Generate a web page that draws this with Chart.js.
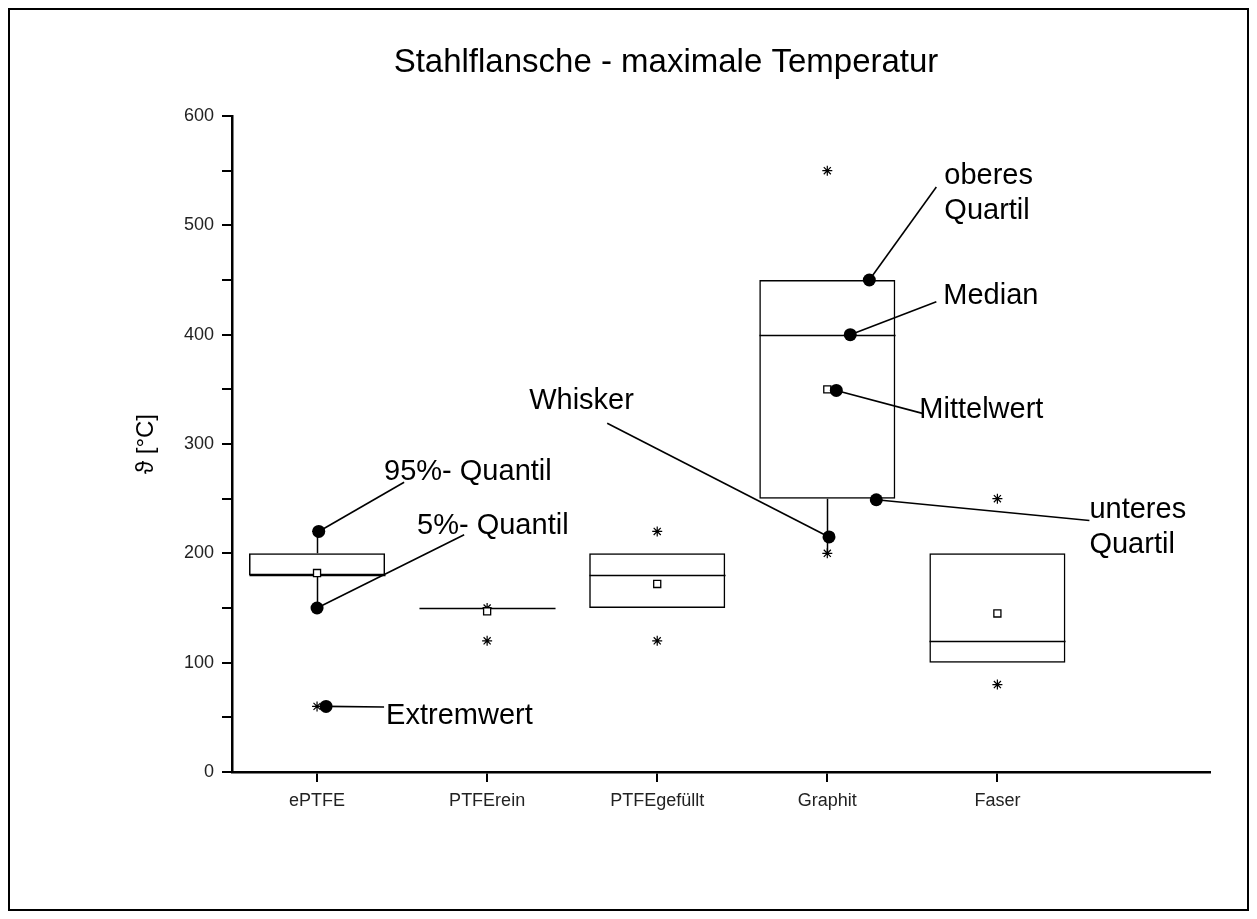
<!DOCTYPE html>
<html><head><meta charset="utf-8">
<script src="https://cdn.jsdelivr.net/npm/chart.js@4.4.0/dist/chart.umd.min.js"></script>
<style>html,body{margin:0;padding:0;background:#fff}canvas{display:block}</style>
</head><body>
<canvas id="c" width="1257" height="919" style="width:1257px;height:919px"></canvas>
<script>
// ---- data ----
const categories = ['ePTFE', 'PTFErein', 'PTFEgefüllt', 'Graphit', 'Faser'];
const q1 = [180, 150, 150, 250, 100];
const q3 = [200, 150, 200, 450, 200];
const median = [180, 150, 180, 400, 120];
const mean = [182, 147, 172, 350, 145];
const whiskerLow = [150, 150, 150, 200, 100];
const whiskerHigh = [220, 150, 200, 450, 200];
const crossValues = [[220, 150, 60], [150, 120], [220, 120], [550, 200], [250, 80]];
const yTicks = [0, 100, 200, 300, 400, 500, 600];

// annotation callouts (in data units: x = category index, y = °C)
const noteLabels = ['95%- Quantil', '5%- Quantil', 'Extremwert', 'Whisker', 'oberes\nQuartil', 'Median', 'Mittelwert', 'unteres\nQuartil'];
const noteDotX = [0.01, 0.0, 0.053, 3.01, 3.247, 3.135, 3.053, 3.288];
const noteDotY = [220, 150, 60, 215, 450, 400, 349, 249];
const noteEndX = [0.512, 0.865, 0.394, 1.706, 3.641, 3.641, 3.559, 4.541];
const noteEndY = [265, 217, 59.5, 319, 535, 430, 328, 230];
const noteTextX = [0.394, 0.588, 0.406, 1.247, 3.688, 3.682, 3.541, 4.541];
const noteTextY = [274, 225, 51, 339, 545, 435, 331, 240];

const FONT = '"Liberation Sans", Arial, Helvetica, sans-serif';

const extras = {
  id: 'extras',
  beforeDraw(chart) {
    const ctx = chart.ctx;
    ctx.save();
    ctx.fillStyle = '#fff';
    ctx.fillRect(0, 0, chart.width, chart.height);
    ctx.strokeStyle = '#000';
    ctx.lineWidth = 2;
    ctx.strokeRect(9, 9, chart.width - 18, chart.height - 18);
    ctx.restore();
  },
  beforeDatasetsDraw(chart) {
    const {ctx, scales: {x, y}} = chart;
    const half = (x.getPixelForValue(1) - x.getPixelForValue(0)) * 0.4;
    ctx.save();
    ctx.strokeStyle = '#000';
    ctx.lineWidth = 1.5;
    categories.forEach((c, i) => {
      const cx = Math.round(x.getPixelForValue(i)) + 0.5;
      ctx.beginPath();
      const ym = Math.round(y.getPixelForValue(median[i])) + 0.5;
      ctx.moveTo(cx - half, ym); ctx.lineTo(cx + half, ym);
      if (whiskerHigh[i] > q3[i]) {
        ctx.moveTo(cx, y.getPixelForValue(q3[i])); ctx.lineTo(cx, y.getPixelForValue(whiskerHigh[i]));
      }
      if (whiskerLow[i] < q1[i]) {
        ctx.moveTo(cx, y.getPixelForValue(q1[i])); ctx.lineTo(cx, y.getPixelForValue(whiskerLow[i]));
      }
      ctx.stroke();
    });
    ctx.restore();
  },
  afterDatasetsDraw(chart) {
    const {ctx, scales: {x, y}} = chart;
    ctx.save();
    ctx.fillStyle = '#000';
    ctx.font = '29px ' + FONT;
    ctx.textAlign = 'left';
    ctx.textBaseline = 'middle';
    noteLabels.forEach((t, i) => {
      const px = x.getPixelForValue(noteTextX[i]);
      const py = y.getPixelForValue(noteTextY[i]);
      t.split('\n').forEach((line, k) => ctx.fillText(line, px, py + k * 35));
    });
    ctx.restore();
  }
};

const datasets = [];
// annotation dots
datasets.push({
  type: 'scatter',
  data: noteDotX.map((v, i) => ({x: v, y: noteDotY[i]})),
  pointStyle: 'circle', pointRadius: 6.5, backgroundColor: '#000', borderColor: '#000', borderWidth: 0, clip: false
});
// annotation lines
noteDotX.forEach((v, i) => {
  datasets.push({
    type: 'line',
    data: [{x: v, y: noteDotY[i]}, {x: noteEndX[i], y: noteEndY[i]}],
    borderColor: '#000', borderWidth: 1.6, pointRadius: 0, fill: false, clip: false
  });
});
// mean markers
datasets.push({
  type: 'scatter',
  data: mean.map((v, i) => ({x: i, y: v})),
  pointStyle: 'rect', pointRadius: 5, backgroundColor: '#fff', borderColor: '#000', borderWidth: 1.3
});
// percentile / extreme crosses
const crossPts = [];
crossValues.forEach((arr, i) => arr.forEach(v => crossPts.push({x: i, y: v})));
datasets.push({
  type: 'scatter',
  data: crossPts,
  pointStyle: 'star', pointRadius: 5, backgroundColor: '#000', borderColor: '#000', borderWidth: 1.2
});
// boxes
datasets.push({
  type: 'bar',
  data: categories.map((c, i) => ({x: i, y: [q1[i], q3[i]]})),
  backgroundColor: 'rgba(255,255,255,0)', borderColor: '#000', borderWidth: 1.5, borderSkipped: false,
  categoryPercentage: 1.0, barPercentage: 0.8
});

new Chart(document.getElementById('c'), {
  type: 'bar',
  data: {datasets},
  plugins: [extras],
  options: {
    responsive: false,
    devicePixelRatio: 1,
    animation: false,
    layout: {padding: {left: 122, right: 47, top: 0, bottom: 0}},
    plugins: {
      legend: {display: false},
      tooltip: {enabled: false},
      title: {
        display: true,
        text: 'Stahlflansche - maximale Temperatur',
        color: '#000',
        font: {family: FONT, size: 33, weight: 'normal'},
        padding: {top: 43, bottom: 33.4}
      }
    },
    scales: {
      x: {
        type: 'linear',
        offset: false,
        min: -0.5, max: 5.25,
        afterBuildTicks: s => { s.ticks = categories.map((c, i) => ({value: i})); },
        afterFit: s => { s.height = 147; },
        ticks: {
          callback: v => categories[v] ?? '',
          color: '#222', font: {family: FONT, size: 18}, padding: 8, maxRotation: 0, autoSkip: false
        },
        grid: {offset: false, drawOnChartArea: false, drawTicks: true, tickLength: 10, color: '#000', lineWidth: 2},
        border: {display: true, color: '#000', width: 2.5}
      },
      y: {
        type: 'linear',
        min: 0, max: 600,
        afterBuildTicks: s => {
          const t = [];
          yTicks.forEach((v, k) => { t.push({value: v}); if (k < yTicks.length - 1) t.push({value: (v + yTicks[k + 1]) / 2}); });
          s.ticks = t;
        },
        afterFit: s => { s.width = 110; },
        ticks: {
          callback: v => yTicks.includes(v) ? String(v) : '',
          color: '#222', font: {family: FONT, size: 18}, padding: 8, autoSkip: false
        },
        grid: {drawOnChartArea: false, drawTicks: true, tickLength: 10, color: '#000', lineWidth: 2},
        border: {display: true, color: '#000', width: 2.5},
        title: {
          display: true, text: 'ϑ [°C]', color: '#000',
          font: {family: FONT, size: 24, weight: 'normal'},
          padding: {top: 10, bottom: 0}
        }
      }
    }
  }
});
</script>
</body></html>
